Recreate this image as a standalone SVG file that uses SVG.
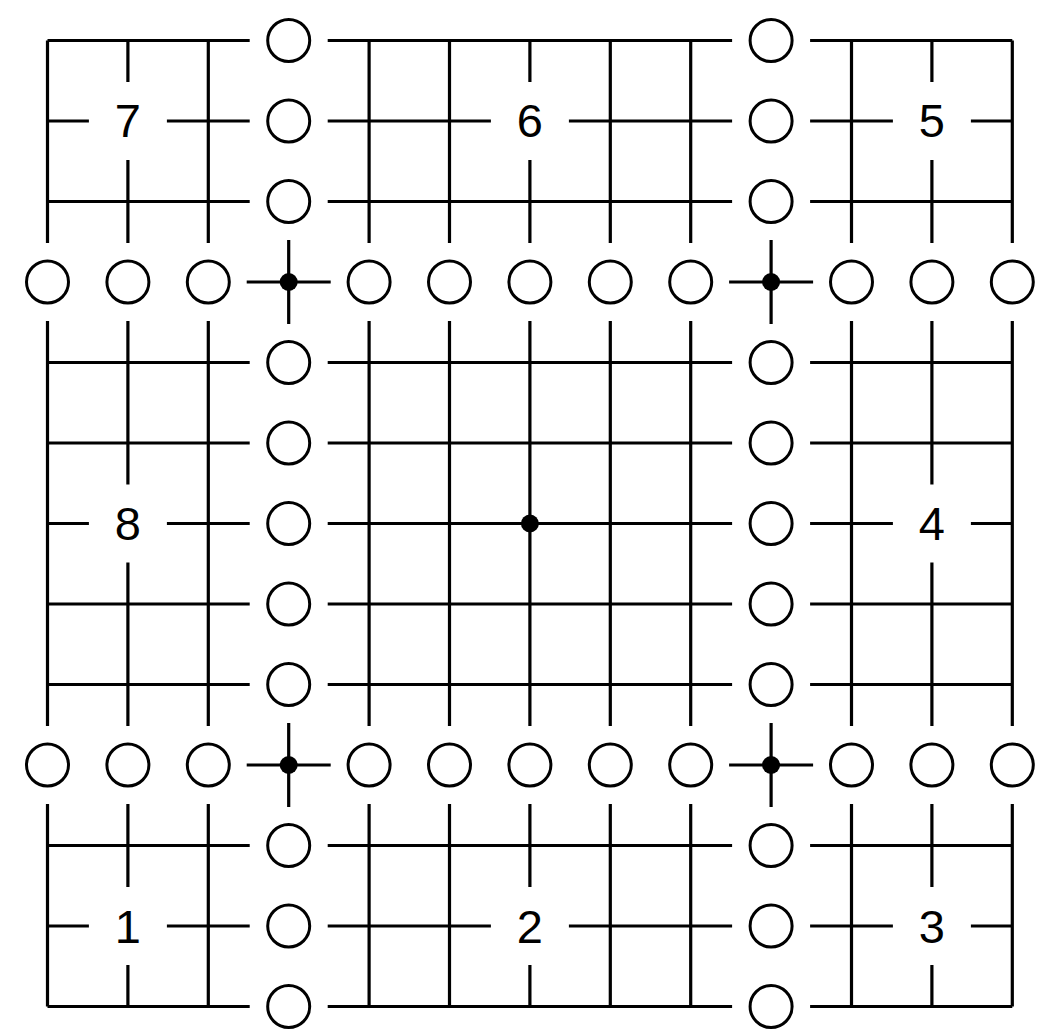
<svg xmlns="http://www.w3.org/2000/svg" width="1056" height="1029" viewBox="0 0 1056 1029">
<style>
.ln{fill:none;stroke:#000;stroke-width:3.2;stroke-linecap:butt}
.ring{fill:#fff;stroke:#000;stroke-width:3}
.dot{fill:#000}
.lbl{font-family:"Liberation Sans",Arial,sans-serif;font-size:47px;fill:#000;text-anchor:middle}
</style>
<rect width="1056" height="1029" fill="#fff"/>
<g id="connectors" class="ln">
<path d="M47.5 40.5H249.7M327.7 40.5H732.1M810.1 40.5H1012.3
M47.5 121H88.9M166.9 121H249.7M327.7 121H490.9M568.9 121H732.1M810.1 121H892.9M970.9 121H1012.3
M47.5 201.5H249.7M327.7 201.5H732.1M810.1 201.5H1012.3
M47.5 362.5H249.7M327.7 362.5H732.1M810.1 362.5H1012.3
M47.5 443H249.7M327.7 443H732.1M810.1 443H1012.3
M47.5 523.5H88.9M166.9 523.5H249.7M327.7 523.5H732.1M810.1 523.5H892.9M970.9 523.5H1012.3
M47.5 604H249.7M327.7 604H732.1M810.1 604H1012.3
M47.5 684.5H249.7M327.7 684.5H732.1M810.1 684.5H1012.3
M47.5 845.5H249.7M327.7 845.5H732.1M810.1 845.5H1012.3
M47.5 926H88.9M166.9 926H249.7M327.7 926H490.9M568.9 926H732.1M810.1 926H892.9M970.9 926H1012.3
M47.5 1006.5H249.7M327.7 1006.5H732.1M810.1 1006.5H1012.3"/>
<path d="M47.5 40.5V243M47.5 321V726M47.5 804V1006.5
M127.9 40.5V82M127.9 160V243M127.9 321V484.5M127.9 562.5V726M127.9 804V887M127.9 965V1006.5
M208.3 40.5V243M208.3 321V726M208.3 804V1006.5
M369.1 40.5V243M369.1 321V726M369.1 804V1006.5
M449.5 40.5V243M449.5 321V726M449.5 804V1006.5
M529.9 40.5V82M529.9 160V243M529.9 321V726M529.9 804V887M529.9 965V1006.5
M610.3 40.5V243M610.3 321V726M610.3 804V1006.5
M690.7 40.5V243M690.7 321V726M690.7 804V1006.5
M851.5 40.5V243M851.5 321V726M851.5 804V1006.5
M931.9 40.5V82M931.9 160V243M931.9 321V484.5M931.9 562.5V726M931.9 804V887M931.9 965V1006.5
M1012.3 40.5V243M1012.3 321V726M1012.3 804V1006.5"/>
</g>
<g id="cross-tl"><path class="ln" d="M246.7 282H330.7M288.7 240V324"/><circle class="dot" cx="288.7" cy="282" r="9"/></g>
<g id="cross-tr"><path class="ln" d="M729.1 282H813.1M771.1 240V324"/><circle class="dot" cx="771.1" cy="282" r="9"/></g>
<g id="cross-bl"><path class="ln" d="M246.7 765H330.7M288.7 723V807"/><circle class="dot" cx="288.7" cy="765" r="9"/></g>
<g id="cross-br"><path class="ln" d="M729.1 765H813.1M771.1 723V807"/><circle class="dot" cx="771.1" cy="765" r="9"/></g>
<g id="center-dot"><circle class="dot" cx="529.9" cy="523.5" r="9"/></g>
<g id="r3c0"><circle class="ring" cx="47.5" cy="282" r="21"/></g>
<g id="r3c1"><circle class="ring" cx="127.9" cy="282" r="21"/></g>
<g id="r3c2"><circle class="ring" cx="208.3" cy="282" r="21"/></g>
<g id="r3c4"><circle class="ring" cx="369.1" cy="282" r="21"/></g>
<g id="r3c5"><circle class="ring" cx="449.5" cy="282" r="21"/></g>
<g id="r3c6"><circle class="ring" cx="529.9" cy="282" r="21"/></g>
<g id="r3c7"><circle class="ring" cx="610.3" cy="282" r="21"/></g>
<g id="r3c8"><circle class="ring" cx="690.7" cy="282" r="21"/></g>
<g id="r3c10"><circle class="ring" cx="851.5" cy="282" r="21"/></g>
<g id="r3c11"><circle class="ring" cx="931.9" cy="282" r="21"/></g>
<g id="r3c12"><circle class="ring" cx="1012.3" cy="282" r="21"/></g>
<g id="r9c0"><circle class="ring" cx="47.5" cy="765" r="21"/></g>
<g id="r9c1"><circle class="ring" cx="127.9" cy="765" r="21"/></g>
<g id="r9c2"><circle class="ring" cx="208.3" cy="765" r="21"/></g>
<g id="r9c4"><circle class="ring" cx="369.1" cy="765" r="21"/></g>
<g id="r9c5"><circle class="ring" cx="449.5" cy="765" r="21"/></g>
<g id="r9c6"><circle class="ring" cx="529.9" cy="765" r="21"/></g>
<g id="r9c7"><circle class="ring" cx="610.3" cy="765" r="21"/></g>
<g id="r9c8"><circle class="ring" cx="690.7" cy="765" r="21"/></g>
<g id="r9c10"><circle class="ring" cx="851.5" cy="765" r="21"/></g>
<g id="r9c11"><circle class="ring" cx="931.9" cy="765" r="21"/></g>
<g id="r9c12"><circle class="ring" cx="1012.3" cy="765" r="21"/></g>
<g id="c3r0"><circle class="ring" cx="288.7" cy="40.5" r="21"/></g>
<g id="c3r1"><circle class="ring" cx="288.7" cy="121" r="21"/></g>
<g id="c3r2"><circle class="ring" cx="288.7" cy="201.5" r="21"/></g>
<g id="c3r4"><circle class="ring" cx="288.7" cy="362.5" r="21"/></g>
<g id="c3r5"><circle class="ring" cx="288.7" cy="443" r="21"/></g>
<g id="c3r6"><circle class="ring" cx="288.7" cy="523.5" r="21"/></g>
<g id="c3r7"><circle class="ring" cx="288.7" cy="604" r="21"/></g>
<g id="c3r8"><circle class="ring" cx="288.7" cy="684.5" r="21"/></g>
<g id="c3r10"><circle class="ring" cx="288.7" cy="845.5" r="21"/></g>
<g id="c3r11"><circle class="ring" cx="288.7" cy="926" r="21"/></g>
<g id="c3r12"><circle class="ring" cx="288.7" cy="1006.5" r="21"/></g>
<g id="c9r0"><circle class="ring" cx="771.1" cy="40.5" r="21"/></g>
<g id="c9r1"><circle class="ring" cx="771.1" cy="121" r="21"/></g>
<g id="c9r2"><circle class="ring" cx="771.1" cy="201.5" r="21"/></g>
<g id="c9r4"><circle class="ring" cx="771.1" cy="362.5" r="21"/></g>
<g id="c9r5"><circle class="ring" cx="771.1" cy="443" r="21"/></g>
<g id="c9r6"><circle class="ring" cx="771.1" cy="523.5" r="21"/></g>
<g id="c9r7"><circle class="ring" cx="771.1" cy="604" r="21"/></g>
<g id="c9r8"><circle class="ring" cx="771.1" cy="684.5" r="21"/></g>
<g id="c9r10"><circle class="ring" cx="771.1" cy="845.5" r="21"/></g>
<g id="c9r11"><circle class="ring" cx="771.1" cy="926" r="21"/></g>
<g id="c9r12"><circle class="ring" cx="771.1" cy="1006.5" r="21"/></g>
<g id="label-7"><text class="lbl" x="127.9" y="137">7</text></g>
<g id="label-6"><text class="lbl" x="529.9" y="137">6</text></g>
<g id="label-5"><text class="lbl" x="931.9" y="137">5</text></g>
<g id="label-8"><text class="lbl" x="127.9" y="540">8</text></g>
<g id="label-4"><text class="lbl" x="931.9" y="540">4</text></g>
<g id="label-1"><text class="lbl" x="127.9" y="943">1</text></g>
<g id="label-2"><text class="lbl" x="529.9" y="943">2</text></g>
<g id="label-3"><text class="lbl" x="931.9" y="943">3</text></g>
</svg>
